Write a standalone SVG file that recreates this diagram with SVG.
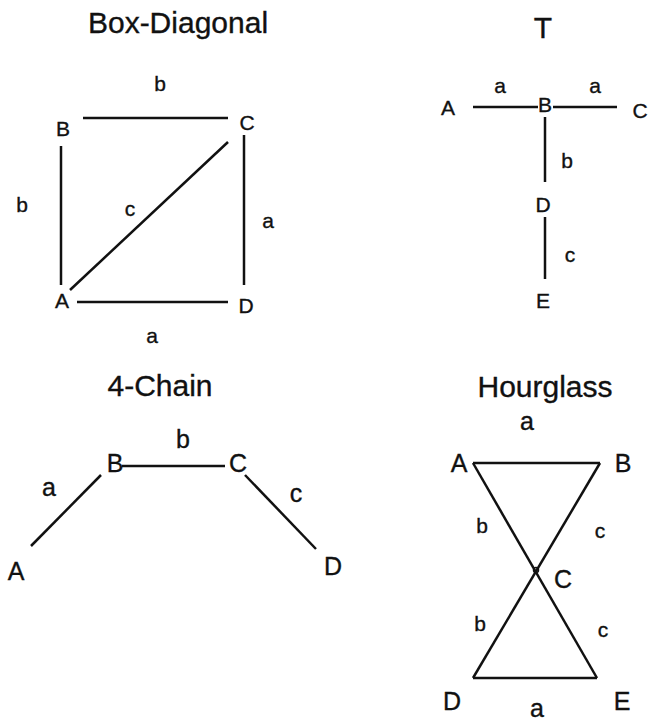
<svg xmlns="http://www.w3.org/2000/svg" width="652" height="723" viewBox="0 0 652 723">
<style>
text{font-family:"Liberation Sans",Arial,sans-serif;fill:#111;stroke:#111;stroke-width:0.35;text-anchor:middle}
.t{font-size:30px}
.s{font-size:21px}
.l{font-size:25px}
line{stroke:#111;stroke-width:2.5}
</style>
<rect width="652" height="723" fill="#fff"/>
<text class="t" x="178" y="33">Box-Diagonal</text>
<text class="t" x="543" y="38">T</text>
<text class="t" x="160" y="396">4-Chain</text>
<text class="t" x="545" y="397">Hourglass</text>
<g id="connectors">
<line x1="83" y1="118" x2="228" y2="118"/>
<line x1="61" y1="146" x2="61" y2="285"/>
<line x1="244" y1="135" x2="244" y2="285"/>
<line x1="77" y1="302" x2="228" y2="302"/>
<line x1="70" y1="290" x2="228" y2="142"/>
<line x1="473" y1="107" x2="538" y2="107"/>
<line x1="553" y1="107" x2="617" y2="107"/>
<line x1="545" y1="117" x2="545" y2="182"/>
<line x1="545" y1="217" x2="545" y2="279"/>
<line x1="122" y1="466" x2="225" y2="466"/>
<line x1="31" y1="546" x2="101" y2="475"/>
<line x1="245" y1="475" x2="316" y2="549"/>
<line x1="473" y1="463" x2="600" y2="463"/>
<line x1="473" y1="463" x2="597" y2="678"/>
<line x1="600" y1="463" x2="473" y2="678"/>
<line x1="473" y1="678" x2="597" y2="678"/>
<circle cx="536" cy="570" r="2.5" fill="none" stroke="#111" stroke-width="1.5"/>
<text class="s" x="160" y="91">b</text>
<text class="s" x="22" y="212">b</text>
<text class="s" x="130" y="216">c</text>
<text class="s" x="268" y="228">a</text>
<text class="s" x="152" y="343">a</text>
<text class="s" x="500" y="93">a</text>
<text class="s" x="595" y="93">a</text>
<text class="s" x="567" y="168">b</text>
<text class="s" x="570" y="262">c</text>
<text class="l" x="183" y="448">b</text>
<text class="l" x="49" y="496">a</text>
<text class="l" x="296" y="502">c</text>
<text class="l" x="527" y="430">a</text>
<text class="s" x="482" y="533">b</text>
<text class="s" x="600" y="538">c</text>
<text class="s" x="480" y="631">b</text>
<text class="s" x="603" y="637">c</text>
<text class="l" x="537" y="717">a</text>
</g>
<g id="bd-A"><text class="s" x="62" y="308">A</text></g>
<g id="bd-B"><text class="s" x="63" y="136">B</text></g>
<g id="bd-C"><text class="s" x="247" y="130">C</text></g>
<g id="bd-D"><text class="s" x="246" y="313">D</text></g>
<g id="t-A"><text class="s" x="448" y="115">A</text></g>
<g id="t-B"><text class="s" x="545" y="112">B</text></g>
<g id="t-C"><text class="s" x="640" y="118">C</text></g>
<g id="t-D"><text class="s" x="543" y="212">D</text></g>
<g id="t-E"><text class="s" x="543" y="308">E</text></g>
<g id="c-A"><text class="l" x="16" y="580">A</text></g>
<g id="c-B"><text class="l" x="115" y="472">B</text></g>
<g id="c-C"><text class="l" x="238" y="472">C</text></g>
<g id="c-D"><text class="l" x="333" y="575">D</text></g>
<g id="h-A"><text class="l" x="459" y="472">A</text></g>
<g id="h-B"><text class="l" x="623" y="472">B</text></g>
<g id="h-C"><text class="l" x="563" y="588">C</text></g>
<g id="h-D"><text class="l" x="452" y="710">D</text></g>
<g id="h-E"><text class="l" x="622" y="710">E</text></g>
</svg>
